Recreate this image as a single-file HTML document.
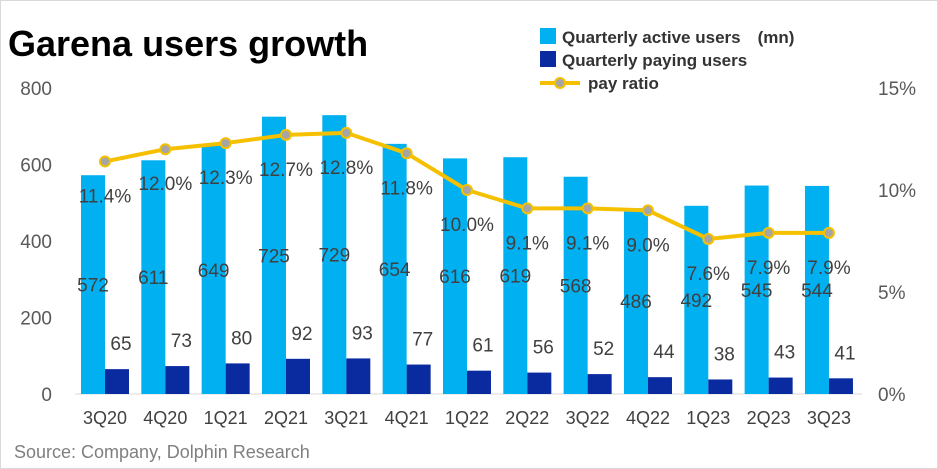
<!DOCTYPE html>
<html><head><meta charset="utf-8"><style>
body{margin:0;background:#fff;}
svg{display:block;font-family:"Liberation Sans","DejaVu Sans",sans-serif;}
</style></head><body>
<svg id="chart" width="938" height="469">
<rect x="0.5" y="0.5" width="937" height="468" fill="#fff" stroke="#d9d9d9"/>
<text x="8" y="56" font-size="36" font-weight="bold" fill="#000">Garena users growth</text>
<g>
<rect x="540" y="28" width="16" height="16" fill="#00b0f0"/>
<text x="562" y="43" font-size="17" font-weight="bold" fill="#333">Quarterly active users　(mn)</text>
<rect x="540" y="51" width="16" height="16" fill="#0a2aa0"/>
<text x="562" y="66" font-size="17" font-weight="bold" fill="#333">Quarterly paying users</text>
<line x1="540" y1="83" x2="580" y2="83" stroke="#f5c000" stroke-width="4"/>
<circle cx="560" cy="83" r="5" fill="#a5a5a5" stroke="#f5c000" stroke-width="2"/>
<text x="588" y="89" font-size="17" font-weight="bold" fill="#333">pay ratio</text>
</g>
<g id="plot"></g>
<text x="14" y="458" font-size="18" fill="#7f7f7f">Source: Company, Dolphin Research</text>
</svg>
<script>
const categories=["3Q20","4Q20","1Q21","2Q21","3Q21","4Q21","1Q22","2Q22","3Q22","4Q22","1Q23","2Q23","3Q23"];
const activeUsers=[572,611,649,725,729,654,616,619,568,486,492,545,544];
const payingUsers=[65,73,80,92,93,77,61,56,52,44,38,43,41];
const payRatio=[11.4,12.0,12.3,12.7,12.8,11.8,10.0,9.1,9.1,9.0,7.6,7.9,7.9];
const leftTicks=[0,200,400,600,800];
const rightTicks=[0,5,10,15];
const NS="http://www.w3.org/2000/svg";
const g=document.getElementById('plot');
const y0=394,yTop=88,x0=105,step=60.33,bw=24;
const yL=v=>y0-(v/800)*(y0-yTop);
const yR=v=>y0-(v/15)*(y0-yTop);
const xC=i=>x0+i*step;
function mk(t,a){const e=document.createElementNS(NS,t);for(const k in a)e.setAttribute(k,a[k]);g.appendChild(e);return e;}
leftTicks.forEach(v=>{const t=mk('text',{x:52,y:yL(v)+7,'font-size':19,fill:'#595959','text-anchor':'end'});t.textContent=v;

});
rightTicks.forEach(v=>{const t=mk('text',{x:878,y:yR(v)+7,'font-size':19,fill:'#595959'});t.textContent=v+'%';

});
const ax=mk('line',{x1:75,x2:862,y1:y0,y2:y0,stroke:'#d9d9d9','stroke-width':1});


categories.forEach((c,i)=>{
const x=xC(i);
const a=mk('rect',{x:x-bw,y:yL(activeUsers[i]),width:bw,height:y0-yL(activeUsers[i]),fill:'#00b0f0'});


const p=mk('rect',{x:x,y:yL(payingUsers[i]),width:bw,height:y0-yL(payingUsers[i]),fill:'#0a2aa0'});


const l=mk('text',{x:x,y:424,'font-size':18,fill:'#404040','text-anchor':'middle'});l.textContent=c;


const av=mk('text',{x:x-bw/2,y:(yL(activeUsers[i])+y0)/2+7,'font-size':19,fill:'#404040','text-anchor':'middle'});av.textContent=activeUsers[i];


const pv=mk('text',{x:x+bw/2+4,y:yL(payingUsers[i])-19,'font-size':19,fill:'#404040','text-anchor':'middle'});pv.textContent=payingUsers[i];


});
const pts=payRatio.map((v,i)=>xC(i)+','+yR(v)).join(' ');
const line=mk('polyline',{points:pts,fill:'none',stroke:'#f5c000','stroke-width':4,'stroke-linejoin':'round'});


payRatio.forEach((v,i)=>{
const c=mk('circle',{cx:xC(i),cy:yR(v),r:5,fill:'#a5a5a5',stroke:'#f5c000','stroke-width':2});


const t=mk('text',{x:xC(i),y:yR(v)+41,'font-size':19,fill:'#404040','text-anchor':'middle'});t.textContent=v.toFixed(1)+'%';


});
</script>
</body></html>
